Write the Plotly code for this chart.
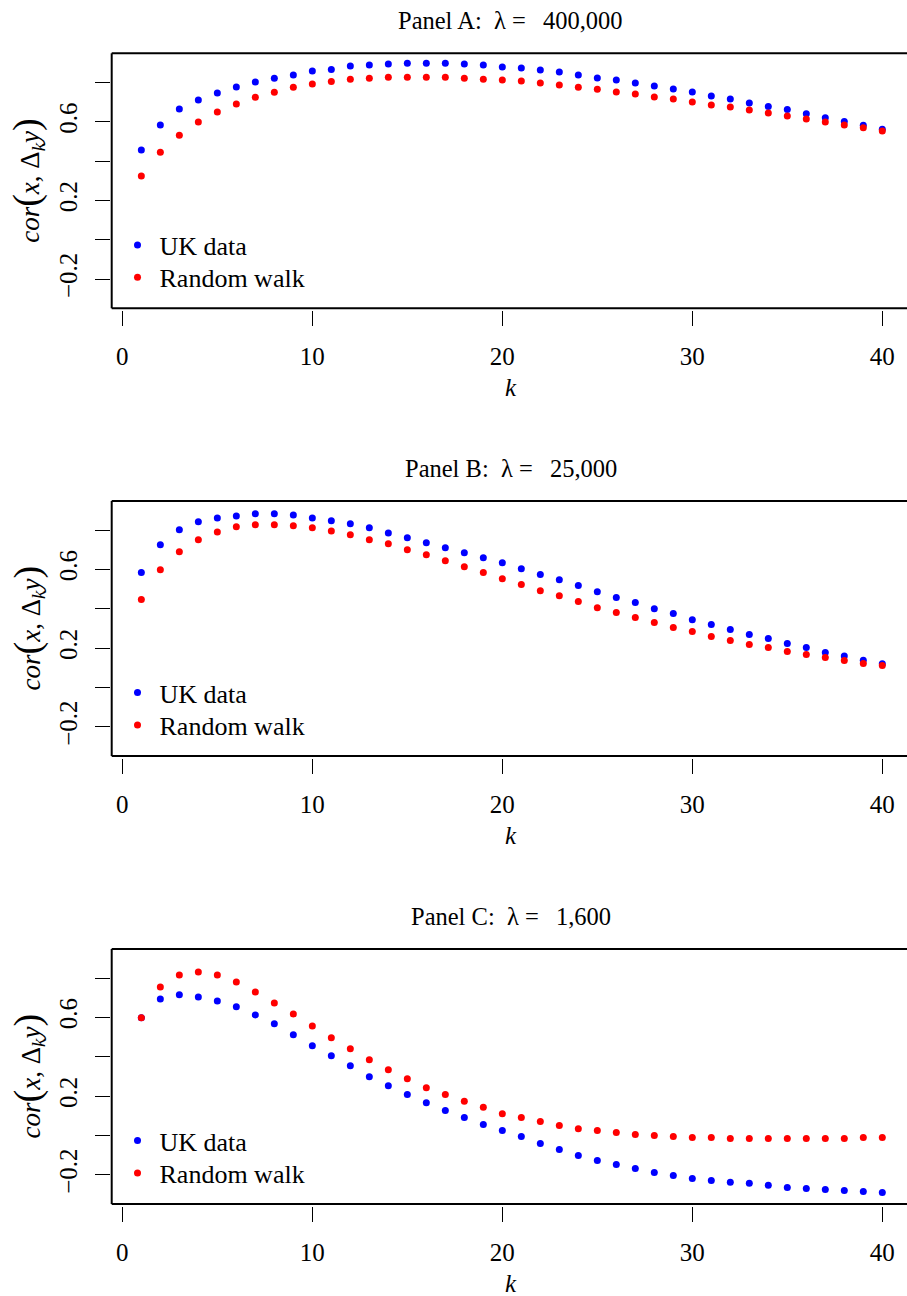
import plotly.graph_objects as go

# Lags k = 1..40
k = list(range(1, 41))

# Panel A: lambda = 400,000
uk_a = [0.457, 0.584, 0.665, 0.711, 0.746, 0.777, 0.802, 0.821, 0.838, 0.858,
        0.866, 0.883, 0.888, 0.893, 0.898, 0.898, 0.898, 0.893, 0.888, 0.878,
        0.873, 0.863, 0.853, 0.838, 0.822, 0.812, 0.797, 0.782, 0.766, 0.751,
        0.731, 0.716, 0.695, 0.677, 0.662, 0.641, 0.621, 0.601, 0.582, 0.562]
rw_a = [0.325, 0.445, 0.531, 0.599, 0.650, 0.690, 0.724, 0.750, 0.775, 0.792,
        0.805, 0.816, 0.821, 0.826, 0.826, 0.826, 0.826, 0.821, 0.816, 0.812,
        0.807, 0.797, 0.787, 0.775, 0.765, 0.751, 0.741, 0.726, 0.716, 0.701,
        0.685, 0.675, 0.660, 0.645, 0.629, 0.614, 0.599, 0.584, 0.569, 0.553]

# Panel B: lambda = 25,000
uk_b = [0.584, 0.726, 0.802, 0.842, 0.862, 0.872, 0.883, 0.883, 0.877, 0.862,
        0.847, 0.832, 0.812, 0.786, 0.761, 0.736, 0.710, 0.685, 0.660, 0.634,
        0.604, 0.574, 0.548, 0.518, 0.487, 0.457, 0.432, 0.401, 0.376, 0.345,
        0.320, 0.295, 0.269, 0.249, 0.224, 0.203, 0.178, 0.160, 0.139, 0.121]
rw_b = [0.447, 0.599, 0.690, 0.751, 0.791, 0.817, 0.827, 0.827, 0.822, 0.812,
        0.796, 0.776, 0.751, 0.731, 0.700, 0.675, 0.644, 0.614, 0.584, 0.553,
        0.523, 0.492, 0.467, 0.437, 0.406, 0.381, 0.356, 0.330, 0.305, 0.285,
        0.259, 0.239, 0.219, 0.204, 0.183, 0.168, 0.153, 0.137, 0.122, 0.112]

# Panel C: lambda = 1,600
uk_c = [0.598, 0.694, 0.715, 0.704, 0.684, 0.654, 0.613, 0.568, 0.512, 0.456,
        0.405, 0.355, 0.299, 0.253, 0.208, 0.167, 0.127, 0.091, 0.056, 0.025,
        -0.005, -0.041, -0.071, -0.101, -0.127, -0.147, -0.167, -0.188, -0.203, -0.218,
        -0.228, -0.238, -0.243, -0.253, -0.264, -0.269, -0.274, -0.279, -0.284, -0.289]
rw_c = [0.598, 0.755, 0.816, 0.831, 0.816, 0.780, 0.730, 0.674, 0.618, 0.557,
        0.497, 0.441, 0.385, 0.334, 0.289, 0.243, 0.208, 0.174, 0.144, 0.111,
        0.091, 0.071, 0.051, 0.035, 0.025, 0.015, 0.005, 0.000, -0.005, -0.010,
        -0.010, -0.015, -0.015, -0.015, -0.015, -0.015, -0.015, -0.015, -0.010, -0.010]

NB = "\u00a0"
panel_titles = [f"Panel A:{NB*2}\u03bb{NB}={NB*2}\u2009400,000",
                f"Panel B:{NB*2}\u03bb{NB}={NB*2}\u200925,000",
                f"Panel C:{NB*2}\u03bb{NB}={NB*2}\u20091,600"]
series_names = ["UK data", "Random walk"]
series_colors = ["#0000ff", "#ff0000"]

x_ticks = [0, 10, 20, 30, 40]
y_ticks = [-0.2, 0.0, 0.2, 0.4, 0.6, 0.8]
y_ticktext = ["\u22120.2", "", "0.2", "", "0.6", ""]

W, H = 907, 1296
FONT = "Liberation Serif"
left_px = 111.7
tops = [53.3, 501.0, 949.0]
box_h = 255.0
legend_rows = [191.7, 224.0]   # key centres below the frame top, px

fig = go.Figure()
panels = [(uk_a, rw_a), (uk_b, rw_b), (uk_c, rw_c)]
shapes = []
annotations = []
legend_no = 0
for i, (uk, rw) in enumerate(panels):
    sfx = "" if i == 0 else str(i + 1)
    xa, ya = "x" + sfx, "y" + sfx
    top = tops[i]
    for j, vals in enumerate((uk, rw)):
        legend_no += 1
        leg = "legend" if legend_no == 1 else f"legend{legend_no}"
        fig.add_trace(go.Scatter(
            x=k, y=vals, mode="markers", name=series_names[j],
            marker=dict(color=series_colors[j], size=7, line=dict(width=0)),
            xaxis=xa, yaxis=ya, legend=leg,
        ))
        fig.layout[leg] = dict(
            x=115.5 / W, y=1 - (top + legend_rows[j]) / H,
            xanchor="left", yanchor="middle",
            bgcolor="rgba(0,0,0,0)", borderwidth=0, itemwidth=34,
            font=dict(family=FONT, size=26, color="black"),
        )
    y0 = 1 - (top + box_h) / H
    y1 = 1 - top / H
    x0 = left_px / W
    fig.layout["xaxis" + sfx] = dict(
        domain=[x0, 1], range=[-0.56, 41.3], anchor="free", position=y0 - 1.5 / H,
        showline=False, showgrid=False, zeroline=False,
        ticks="outside", ticklen=15, tickwidth=1.4, tickcolor="black",
        tickvals=x_ticks, ticklabelstandoff=9,
        tickfont=dict(family=FONT, size=25, color="black"),
    )
    fig.layout["yaxis" + sfx] = dict(
        domain=[y0, y1], range=[-0.348, 0.948], anchor="free", position=x0 - 1.5 / W,
        showline=False, showgrid=False, zeroline=False,
        ticks="outside", ticklen=15, tickwidth=1.4, tickcolor="black",
        tickvals=y_ticks, ticktext=y_ticktext, tickangle=-90, ticklabelstandoff=8,
        tickfont=dict(family=FONT, size=25, color="black"),
    )
    # plot frame: top, bottom and left edges
    for (ax0, ay0, ax1, ay1) in [(0, 1, 1, 1), (0, 0, 1, 0), (0, 0, 0, 1)]:
        shapes.append(dict(type="line", xref=xa + " domain", yref=ya + " domain",
                           x0=ax0, y0=ay0, x1=ax1, y1=ay1,
                           line=dict(color="black", width=2)))
    annotations.append(dict(
        text=panel_titles[i], xref="paper", yref="paper",
        x=511 / W, y=1 - (top - 33) / H, xanchor="center", yanchor="middle",
        showarrow=False, font=dict(family=FONT, size=24.5, color="black"),
    ))
    annotations.append(dict(
        text="<i>k</i>", xref="paper", yref="paper",
        x=511 / W, y=1 - (top + 334.5) / H, xanchor="center", yanchor="middle",
        showarrow=False, font=dict(family=FONT, size=25, color="black"),
    ))
    annotations.append(dict(
        text="<i>cor</i><span style='font-size:38px'>(</span><i>x</i>, \u0394<sub><i>k</i></sub><i>y</i><span style='font-size:38px'>)</span>",
        xref="paper", yref="paper", textangle=-90,
        x=27 / W, y=1 - (top + box_h / 2) / H, xanchor="center", yanchor="middle",
        showarrow=False, font=dict(family=FONT, size=27, color="black"),
    ))

fig.update_layout(
    width=W, height=H, margin=dict(l=0, r=0, t=0, b=0),
    paper_bgcolor="white", plot_bgcolor="white",
    font=dict(family=FONT, size=25, color="black"),
    shapes=shapes, annotations=annotations, showlegend=True,
)

fig.write_html("out.html")
